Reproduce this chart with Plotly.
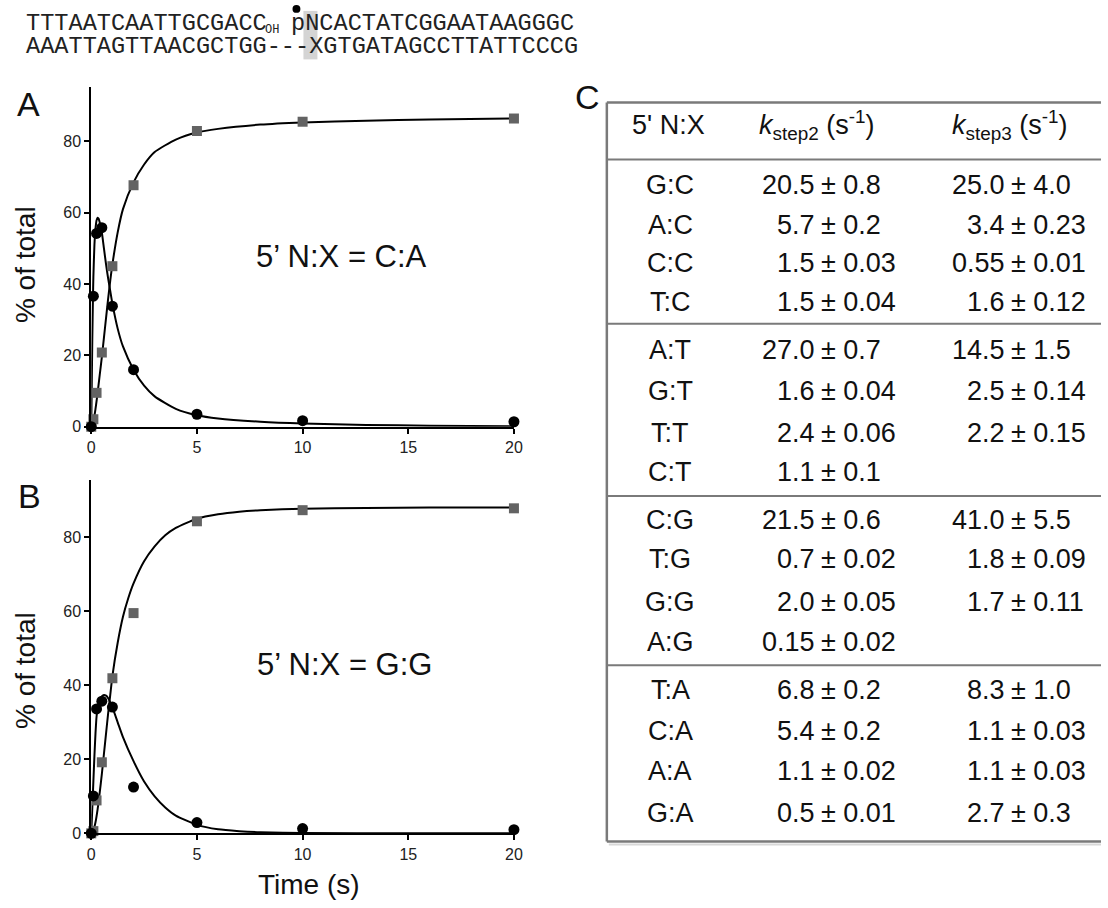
import plotly.graph_objects as go

W, H = 1108, 908

# ---------------- data: panel A (5' N:X = C:A) ----------------
times = [0, 0.1, 0.25, 0.5, 1, 2, 5, 10, 20]
a_product = [0, 2.1, 9.5, 20.8, 45.0, 67.7, 82.9, 85.5, 86.4]
a_inter = [0, 36.6, 54.2, 55.8, 33.8, 16.0, 3.5, 1.7, 1.4]

a_fit_inter_t = [0, 0.02, 0.05, 0.08, 0.1, 0.15, 0.2, 0.25, 0.3, 0.35, 0.4, 0.5, 0.6, 0.7,
                 0.8, 0.9, 1.0, 1.25, 1.5, 2, 2.5, 3, 4, 5, 6, 8, 10, 13, 16, 20]
a_fit_inter = [0, 10, 25, 36, 42, 51, 55.5, 57.8, 58.6, 58.3, 57.3, 54.5, 50, 45.5,
               41.5, 38, 34.5, 27.5, 22.5, 16, 11.5, 8.5, 5, 3.2, 2.3, 1.4, 0.9, 0.5, 0.3, 0.15]
a_fit_prod_t = [0, 0.1, 0.2, 0.3, 0.4, 0.5, 0.6, 0.7, 0.8, 0.9, 1.0, 1.25, 1.5, 2, 2.5, 3,
                4, 5, 6, 8, 10, 13, 16, 20]
a_fit_prod = [0, 1.5, 5, 9.5, 14.5, 19.5, 25, 30.5, 36, 41, 45.5, 54.5, 61, 68.5, 73.5, 77,
              80.5, 82.5, 83.5, 84.7, 85.3, 85.8, 86.1, 86.4]

# ---------------- data: panel B (5' N:X = G:G) ----------------
b_product = [0, 0.6, 8.9, 19.2, 41.9, 59.5, 84.3, 87.3, 87.8]
b_inter = [0, 10.1, 33.6, 35.7, 34.1, 12.5, 2.9, 1.3, 1.0]

b_fit_inter_t = [0, 0.05, 0.1, 0.15, 0.2, 0.25, 0.3, 0.4, 0.5, 0.6, 0.7, 0.8, 1.0, 1.25,
                 1.5, 2, 2.5, 3, 3.5, 4, 5, 6, 7, 8, 10, 15, 20]
b_fit_inter = [0, 7, 14, 21, 27, 31.5, 33.8, 36, 37, 37.4, 37.2, 36.5, 34, 30,
               26, 19.5, 14, 10, 7, 4.8, 2.3, 1.1, 0.6, 0.3, 0.1, 0.01, 0]
b_fit_prod_t = [0, 0.1, 0.2, 0.3, 0.4, 0.5, 0.6, 0.7, 0.8, 0.9, 1.0, 1.25, 1.5, 1.75, 2,
                2.5, 3, 3.5, 4, 5, 6, 7, 8, 10, 13, 16, 20]
b_fit_prod = [0, 0.8, 3, 6.5, 11, 16, 21.5, 27, 32.5, 37.5, 42.5, 51.5, 58.5, 63.5, 67.5,
              73.5, 77.5, 80.5, 82.5, 85, 86.2, 86.9, 87.3, 87.7, 87.9, 88, 88]

x_ticks = [0, 5, 10, 15, 20]
y_ticks = [0, 20, 40, 60, 80]

# ---------------- data: table C ----------------
pairs = ["G:C", "A:C", "C:C", "T:C", "A:T", "G:T", "T:T", "C:T",
         "C:G", "T:G", "G:G", "A:G", "T:A", "C:A", "A:A", "G:A"]
k2_val = ["20.5", "5.7", "1.5", "1.5", "27.0", "1.6", "2.4", "1.1",
          "21.5", "0.7", "2.0", "0.15", "6.8", "5.4", "1.1", "0.5"]
k2_err = ["0.8", "0.2", "0.03", "0.04", "0.7", "0.04", "0.06", "0.1",
          "0.6", "0.02", "0.05", "0.02", "0.2", "0.2", "0.02", "0.01"]
k3_val = ["25.0", "3.4", "0.55", "1.6", "14.5", "2.5", "2.2", "",
          "41.0", "1.8", "1.7", "", "8.3", "1.1", "1.1", "2.7"]
k3_err = ["4.0", "0.23", "0.01", "0.12", "1.5", "0.14", "0.15", "",
          "5.5", "0.09", "0.11", "", "1.0", "0.03", "0.03", "0.3"]

seq_top_left = "TTTAATCAATTGCGACC"
seq_top_right = "pNCACTATCGGAATAAGGGC"
seq_bottom = "AAATTAGTTAACGCTGG---XGTGATAGCCTTATTCCCG"

# ---------------- layout helpers ----------------
SANS = "Liberation Sans, Arial, Helvetica, sans-serif"
MONO = "Liberation Mono, Courier New, monospace"


def px(x):
    return x / W


def py(y):
    return 1 - y / H


fig = go.Figure()

SQ_COLOR = "#636363"
LINE = dict(color="black", width=2)

for ax, prod, inter, ft_i, fv_i, ft_p, fv_p in [
    ("1", a_product, a_inter, a_fit_inter_t, a_fit_inter, a_fit_prod_t, a_fit_prod),
    ("2", b_product, b_inter, b_fit_inter_t, b_fit_inter, b_fit_prod_t, b_fit_prod),
]:
    xa = "x" if ax == "1" else "x2"
    ya = "y" if ax == "1" else "y2"
    fig.add_trace(go.Scatter(x=ft_p, y=fv_p, mode="lines", line=dict(shape="spline", smoothing=0.6, **LINE),
                             xaxis=xa, yaxis=ya, cliponaxis=False, showlegend=False, hoverinfo="skip"))
    fig.add_trace(go.Scatter(x=ft_i, y=fv_i, mode="lines", line=dict(shape="spline", smoothing=0.6, **LINE),
                             xaxis=xa, yaxis=ya, cliponaxis=False, showlegend=False, hoverinfo="skip"))
    fig.add_trace(go.Scatter(x=times, y=prod, mode="markers",
                             marker=dict(symbol="square", size=10, color=SQ_COLOR, line=dict(width=0)),
                             xaxis=xa, yaxis=ya, cliponaxis=False, showlegend=False))
    fig.add_trace(go.Scatter(x=times, y=inter, mode="markers",
                             marker=dict(symbol="circle", size=11, color="black", line=dict(width=0)),
                             xaxis=xa, yaxis=ya, cliponaxis=False, showlegend=False))

axis_common = dict(showgrid=False, zeroline=False, showline=True, linecolor="black", linewidth=2,
                   ticks="outside", ticklen=5, tickwidth=1.5, tickcolor="black",
                   tickfont=dict(family=SANS, size=16, color="#222"))

x_dom = [px(88.3), px(516)]
fig.update_layout(
    xaxis=dict(domain=x_dom, range=[0, 20], tickvals=x_ticks, anchor="y", **axis_common),
    yaxis=dict(domain=[py(431), py(88)], range=[0, 95.2], tickvals=y_ticks, anchor="x", **axis_common),
    xaxis2=dict(domain=x_dom, range=[0, 20], tickvals=x_ticks, anchor="y2", **axis_common),
    yaxis2=dict(domain=[py(841.7), py(485)], range=[0, 95.4], tickvals=y_ticks, anchor="x2", **axis_common),
)

ann = []


def add_text(x, y, text, size, family=SANS, xanchor="center", color="#111", angle=0):
    ann.append(dict(x=px(x), y=py(y), xref="paper", yref="paper", text=text, showarrow=False,
                    xanchor=xanchor, yanchor="middle", textangle=angle,
                    font=dict(family=family, size=size, color=color)))


# panel letters
add_text(25, 105, "A", 34)
add_text(26, 501, "B", 34)
add_text(590, 98, "C", 34)

# axis titles
add_text(22, 267, "% of total", 28, angle=-90)
add_text(22, 677, "% of total", 28, angle=-90)
add_text(309, 893, "Time (s)", 28)

# in-plot labels
add_text(342, 259, "5’ N:X = C:A", 31)
add_text(345, 671, "5’ N:X = G:G", 31)

# sequence
shapes = []
CW = 14.15
SX = 20
shapes.append(dict(type="rect", xref="paper", yref="paper",
                   x0=px(SX + 20 * CW), x1=px(SX + 21 * CW), y0=py(60), y1=py(11),
                   fillcolor="#d4d4d4", line=dict(width=0), layer="below"))
shapes.append(dict(type="circle", xref="paper", yref="paper",
                   x0=px(SX + 19.5 * CW - 4), x1=px(SX + 19.5 * CW + 4), y0=py(13), y1=py(5),
                   fillcolor="black", line=dict(width=0)))
add_text(SX, 24, seq_top_left, 23.6, family=MONO, xanchor="left", color="#222")
add_text(SX + 17 * CW + 2, 30, "OH", 12, family=MONO, xanchor="left", color="#222")
add_text(SX + 19 * CW, 24, seq_top_right, 23.6, family=MONO, xanchor="left", color="#222")
add_text(SX, 47, seq_bottom, 23.6, family=MONO, xanchor="left", color="#222")

# table
T_LEFT, T_RIGHT, T_TOP, T_BOT = 610, 1110, 103.5, 850
LC = "#7a7a7a"
for (x0, y0, x1, y1) in [(T_LEFT, T_TOP, T_RIGHT, T_TOP), (T_LEFT, T_TOP, T_LEFT, T_BOT),
                         (T_LEFT, T_BOT, T_RIGHT, T_BOT)]:
    shapes.append(dict(type="line", xref="paper", yref="paper", x0=px(x0), y0=py(y0), x1=px(x1), y1=py(y1),
                       line=dict(color=LC, width=2.5)))
shapes.append(dict(type="line", xref="paper", yref="paper", x0=px(T_LEFT + 2), y0=py(T_BOT + 3),
                   x1=px(T_RIGHT), y1=py(T_BOT + 3), line=dict(color="#d8d8d8", width=2)))
for ysep in [161, 327, 501, 672]:
    shapes.append(dict(type="line", xref="paper", yref="paper", x0=px(T_LEFT), y0=py(ysep), x1=px(T_RIGHT),
                       y1=py(ysep), line=dict(color=LC, width=2)))

TS = 27
add_text(672, 126, "5' N:X", TS)
add_text(762, 126, "<i>k</i><sub>step2</sub> (s<sup>-1</sup>)", TS, xanchor="left")
add_text(957, 126, "<i>k</i><sub>step3</sub> (s<sup>-1</sup>)", TS, xanchor="left")

row_y = [187, 227, 266, 305, 353, 395, 437, 477, 525, 565, 608, 648, 697, 738, 779, 821]
for i, yy in enumerate(row_y):
    add_text(674, yy, pairs[i], TS)
    add_text(823, yy, k2_val[i], TS, xanchor="right")
    add_text(825, yy, "± " + k2_err[i], TS, xanchor="left")
    if k3_val[i]:
        add_text(1015, yy, k3_val[i], TS, xanchor="right")
        add_text(1017, yy, "± " + k3_err[i], TS, xanchor="left")

fig.update_layout(width=W, height=H, autosize=False, margin=dict(l=0, r=0, t=0, b=0),
                  paper_bgcolor="white", plot_bgcolor="white", annotations=ann, shapes=shapes,
                  showlegend=False)

fig.write_html("out.html", config={"displayModeBar": False},
               post_script="document.body.style.margin='0';document.body.style.overflow='hidden';")
